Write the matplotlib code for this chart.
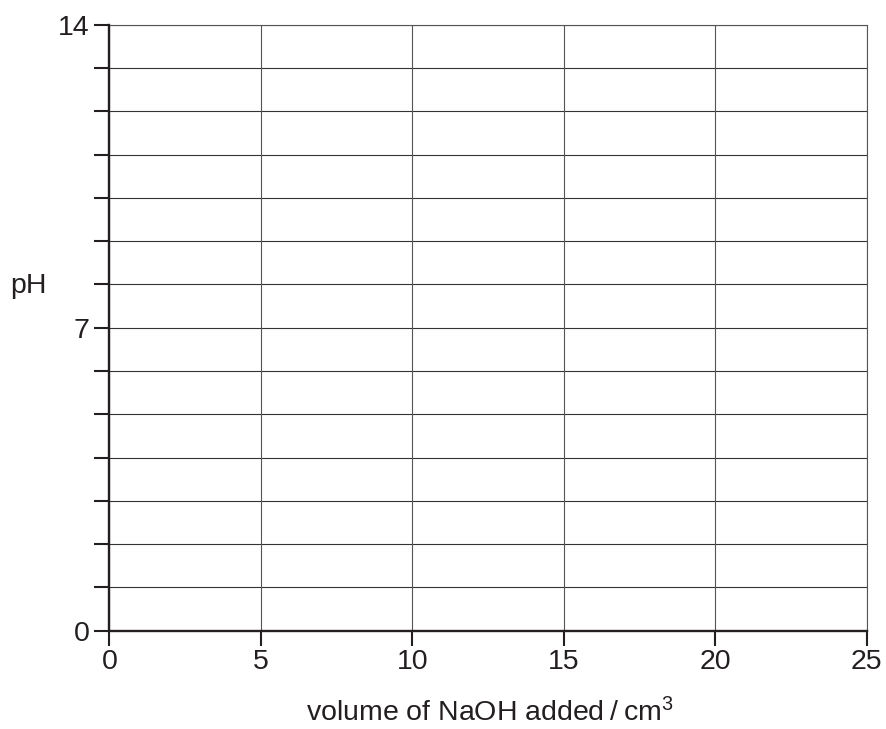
import matplotlib
matplotlib.use("Agg")
import matplotlib.pyplot as plt
import numpy as np

plt.rcParams['font.family'] = ['Liberation Sans', 'DejaVu Sans']
plt.rcParams['mathtext.fontset'] = 'custom'
plt.rcParams['mathtext.rm'] = 'Liberation Sans'

x_major_ticks = [0, 5, 10, 15, 20, 25]
y_major_ticks = [0, 7, 14]
y_grid_lines = list(range(0, 15))
x_label = "volume of NaOH added\u2009/\u2009cm$\\mathregular{^3}$"
y_label = "pH"

fig = plt.figure(figsize=(8.87, 7.29), dpi=100)
W, H = 887, 729
left, right, top, bottom = 109.5, 866.7, 24.7, 630.7
ax = fig.add_axes([left / W, 1 - bottom / H, (right - left) / W, (bottom - top) / H])

ax.set_xlim(0, 25)
ax.set_ylim(0, 14)

for yv in y_grid_lines:
    ax.axhline(yv, color='#333333', lw=0.8, zorder=1)
for xv in x_major_ticks:
    ax.axvline(xv, color='#555555', lw=0.8, zorder=1)

ax.set_xticks(x_major_ticks)
ax.set_yticks(y_major_ticks)
ax.set_yticks(y_grid_lines, minor=True)
ax.tick_params(axis='both', which='both', direction='out', length=10.5, width=1.5,
               color='#231f20', labelsize=20.5, labelcolor='#231f20')
ax.tick_params(axis='x', pad=3)
ax.tick_params(axis='y', pad=4)

for s in ['left', 'bottom']:
    ax.spines[s].set_linewidth(1.7)
    ax.spines[s].set_color('#231f20')
    ax.spines[s].set_zorder(3)
for s in ['top', 'right']:
    ax.spines[s].set_linewidth(0.8)
    ax.spines[s].set_color('#555555')

fig.text(490 / W, 1 - 721 / H, x_label, ha='center', va='baseline', fontsize=20.5, color='#231f20')
fig.text(28 / W, 1 - 293 / H, y_label, ha='center', va='baseline', fontsize=20.5, color='#231f20')

fig.savefig("out.png", dpi=100)
